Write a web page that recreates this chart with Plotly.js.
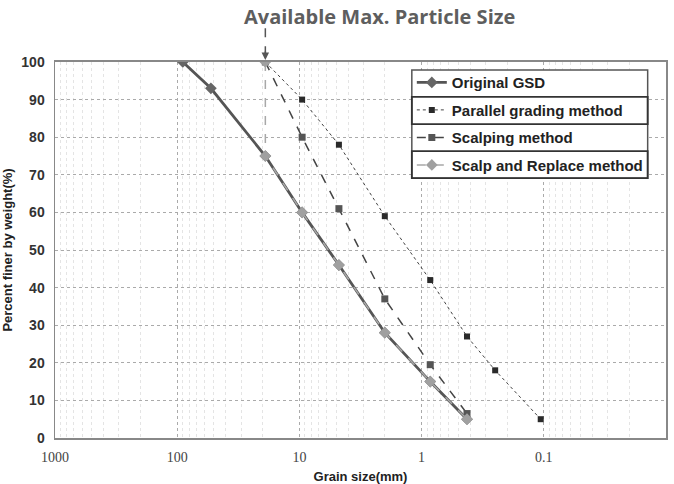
<!DOCTYPE html>
<html>
<head>
<meta charset="utf-8">
<script src="https://cdn.plot.ly/plotly-3.0.1.min.js"></script>
<style>html,body{margin:0;padding:0;background:#fff;}#chart{width:674px;height:484px;}</style>
</head>
<body>
<div id="chart"></div>
<script>
// Data
const originalSize = [90, 53, 19, 9.5, 4.75, 2, 0.85, 0.425];
const originalPass = [100, 93, 75, 60, 46, 28, 15, 5];
const parallelSize = [19, 9.5, 4.75, 2, 0.85, 0.425, 0.25, 0.106];
const parallelPass = [100, 90, 78, 59, 42, 27, 18, 5];
const scalpSize = [19, 9.5, 4.75, 2, 0.85, 0.425];
const scalpPass = [100, 80, 61, 37, 19.5, 6.5];
const replaceSize = [19, 19, 9.5, 4.75, 2, 0.85, 0.425];
const replacePass = [100, 75, 60, 46, 28, 15, 5];
const maxParticleSize = 19;
const xTickVals = [1000, 100, 10, 1, 0.1, 0.01];
const xTickText = ['1000', '100', '10', '1', '0.1', '0.01'];
const seriesNames = ['Original GSD', 'Parallel grading method', 'Scalping method', 'Scalp and Replace method'];

const traces = [
  {x: originalSize, y: originalPass, name: seriesNames[0], legendgroup: 'a', mode: 'lines+markers',
   line: {color: '#555', width: 2.8}, marker: {symbol: 'diamond', size: 9, color: '#666'}},
  {x: parallelSize, y: parallelPass, name: seriesNames[1], legendgroup: 'b', mode: 'lines+markers',
   line: {color: '#444', width: 1, dash: 'dot'}, marker: {symbol: 'square', size: 6, color: '#2a2a2a'}},
  {x: scalpSize, y: scalpPass, name: seriesNames[2], legendgroup: 'c', mode: 'lines+markers',
   line: {color: '#444', width: 1.5, dash: 'dash'}, marker: {symbol: 'square', size: 7, color: '#555'}},
  {x: replaceSize, y: replacePass, name: seriesNames[3], legendgroup: 'd', mode: 'lines+markers',
   line: {color: '#a8a8a8', width: 1.5, dash: 'dash'}, marker: {symbol: 'diamond', size: 9, color: '#a0a0a0'}}
];

// legend box geometry (paper coords)
const legX0 = 0.584, legX1 = 0.970;
const legYTop = 0.979, legYBot = 0.691;
const rowH = (legYTop - legYBot) / 4;

const layout = {
  width: 674, height: 484,
  margin: {l: 55, r: 8, t: 62, b: 46},
  paper_bgcolor: '#fff', plot_bgcolor: '#fff',
  showlegend: true,
  legend: {x: legX0, y: 0.989, xanchor: 'left', yanchor: 'top', bgcolor: 'rgba(0,0,0,0)',
    borderwidth: 0, tracegroupgap: 5, itemwidth: 30,
    font: {family: 'Liberation Sans, Arial, sans-serif', size: 15, color: '#222', weight: 'bold'}},
  xaxis: {type: 'log', range: [3, -2], tickvals: xTickVals, ticktext: xTickText,
    tickfont: {family: 'Liberation Serif, Times New Roman, serif', size: 14, color: '#444'},
    ticklabelstandoff: 5,
    showgrid: true, gridcolor: '#aaa', griddash: 'dot', gridwidth: 1,
    minor: {dtick: 'D1', showgrid: true, gridcolor: '#e4e4e4', gridwidth: 1, ticks: ''},
    showline: true, linecolor: '#888', linewidth: 2, mirror: true, ticks: '', zeroline: false,
    title: {text: 'Grain size(mm)', standoff: 24, font: {family: 'Liberation Sans, Arial, sans-serif', size: 13, color: '#222', weight: 'bold'}}},
  yaxis: {range: [0, 100], dtick: 10, showgrid: true, gridcolor: '#aaa', griddash: 'dot',
    tickfont: {family: 'Liberation Sans, Arial, sans-serif', size: 14, color: '#333', weight: 'bold'},
    ticklabelstandoff: 6,
    showline: true, linecolor: '#888', linewidth: 1.5, mirror: true, ticks: '', zeroline: false,
    title: {text: 'Percent finer by weight(%)', standoff: 6, font: {family: 'Liberation Sans, Arial, sans-serif', size: 13, color: '#222', weight: 'bold'}}},
  shapes: [
    {type: 'line', xref: 'x', yref: 'paper', x0: maxParticleSize, x1: maxParticleSize, y0: 1.09, y1: 1.02,
     line: {color: '#555', width: 1.5, dash: 'dash'}},
    {type: 'rect', xref: 'paper', yref: 'paper', layer: 'above', x0: legX0, x1: legX1, y0: legYBot, y1: legYTop,
     fillcolor: '#fff', line: {color: '#555', width: 1.5}},
    {type: 'rect', xref: 'paper', yref: 'paper', layer: 'above', x0: legX0, x1: legX1, y0: legYTop - 2 * rowH, y1: legYTop - rowH,
     line: {color: '#333', width: 1.8}},
    {type: 'rect', xref: 'paper', yref: 'paper', layer: 'above', x0: legX0, x1: legX1, y0: legYBot, y1: legYBot + rowH,
     line: {color: '#333', width: 1.8}}
  ],
  annotations: [
    {text: 'Available Max. Particle Size', xref: 'paper', yref: 'paper', x: (242 - 55) / 611, xanchor: 'left', y: 1.122,
     showarrow: false, yanchor: 'middle', font: {family: 'Open Sans, Noto Sans, sans-serif', size: 20, color: '#5e5e5e', weight: 'bold'}},
    {text: '', xref: 'x', yref: 'y', x: Math.log10(maxParticleSize), y: 100, ax: 0, ay: -12,
     showarrow: true, arrowhead: 2, arrowsize: 1, arrowwidth: 1.5, arrowcolor: '#555', standoff: 2}
  ]
};

Plotly.newPlot('chart', traces, layout, {displayModeBar: false, staticPlot: true});
</script>
</body>
</html>
